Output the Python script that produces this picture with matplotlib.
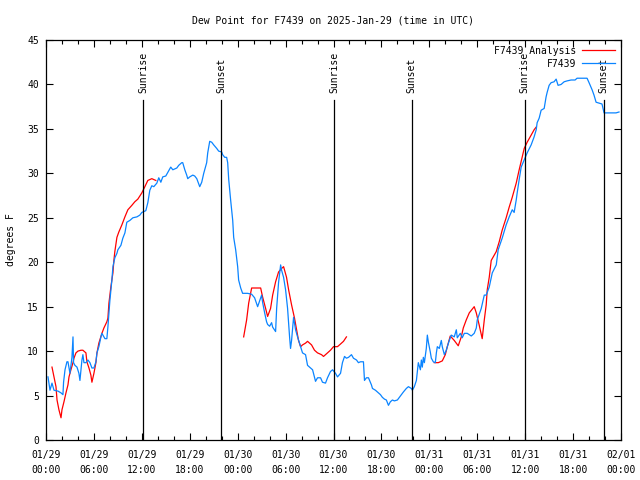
import numpy as np
import matplotlib
matplotlib.use("Agg")
import matplotlib.pyplot as plt

nan = np.nan

# hours since 2025-01-29 00:00 UTC
obs_hours = [0.25, 0.5, 0.75, 1.0, 1.5, 1.88, 2.12, 2.2, 2.38, 2.62, 2.75, 3.0, 3.25, 3.38, 3.45,
             3.62, 3.88, 4.12, 4.25, 4.5, 4.62, 4.75, 5.0, 5.25, 5.5, 5.75, 6.0, 6.25, 6.38, 6.62,
             6.88, 7.0, 7.38, 7.62, 7.75, 8.0, 8.25, 8.38, 8.62, 8.88, 9.0, 9.38, 9.62, 9.88, 10.12,
             10.5, 10.88, 11.38, 11.75, 12.0, 12.5, 12.75, 13.0, 13.25, 13.5, 13.88, 14.12, 14.38,
             14.62, 15.0, 15.25, 15.62, 15.88, 16.38, 16.62, 17.0, 17.12, 17.38, 17.62, 17.75, 18.0,
             18.38, 18.62, 18.88, 19.25, 19.5, 19.75, 20.12, 20.25, 20.5, 20.75, 21.0, 21.38, 21.62,
             22.0, 22.12, 22.38, 22.62, 22.75, 22.88, 23.12, 23.38, 23.5, 23.75, 24.0, 24.12, 24.38,
             24.62, 25.25, 25.75, 26.12, 26.5, 26.88, 27.0, 27.12, 27.38, 27.62, 27.75, 28.0, 28.25,
             28.38, 28.75, 28.88, 29.12, 29.38, 29.5, 29.75, 30.0, 30.25, 30.5, 30.62, 30.75, 31.0,
             31.25, 31.5, 31.88, 32.12, 32.5, 32.75, 33.12, 33.38, 33.75, 34.0, 34.38, 34.62, 35.0,
             35.25, 35.62, 35.88, 36.25, 36.5, 36.88, 37.12, 37.38, 37.62, 37.88, 38.25, 38.5, 38.88,
             39.12, 39.38, 39.75, 39.88, 40.12, 40.38, 40.75, 40.88, 41.25, 41.5, 41.88, 42.12, 42.38,
             42.62, 42.88, 43.12, 43.38, 43.62, 44.0, 44.25, 44.5, 44.75, 45.12, 45.38, 45.75, 45.88,
             46.12, 46.38, 46.5, 46.62, 46.88, 47.0, 47.12, 47.25, 47.38, 47.62, 47.75, 47.88, 48.12,
             48.25, 48.5, 48.75, 48.88, 49.0, 49.25, 49.5, 49.62, 49.88, 50.12, 50.25, 50.5, 50.75,
             51.12, 51.38, 51.5, 51.88, 52.12, 52.38, 52.75, 53.25, 53.62, 53.88, 54.0, 54.5, 54.88,
             55.12, 55.5, 55.88, 56.38, 56.62, 57.12, 57.62, 58.0, 58.38, 58.62, 58.88, 59.0, 59.25,
             59.5, 59.88, 60.25, 60.75, 61.12, 61.38, 61.5, 61.75, 62.0, 62.38, 62.62, 62.75, 63.0,
             63.25, 63.62, 63.88, 64.12, 64.5, 64.88, 65.25, 65.75, 66.25, 66.5, 67.12, 67.75, 68.0,
             68.38, 68.62, 68.88, 69.25, 69.62, 69.88, 70.5, 71.38, 71.75]
obs_dewpt = [7.1, 5.6, 6.4, 5.6, 5.5, 5.3, 5.1, 6.5, 7.9, 8.8, 8.8, 7.5, 9.3, 11.6, 8.7,
             8.4, 8.2, 7.5, 6.7, 9.0, 9.6, 8.7, 8.7, 9.0, 8.7, 8.1, 8.1, 8.8, 9.8, 10.5,
             11.6, 12.0, 11.4, 11.4, 12.7, 15.7, 18.0, 19.5, 20.5, 21.0, 21.4, 21.9, 22.7, 23.3, 24.5,
             24.7, 25.0, 25.1, 25.3, 25.6, 25.8, 26.7, 28.1, 28.6, 28.5, 28.9, 29.5, 29.0,
             29.6, 29.7, 30.1, 30.7, 30.4, 30.6, 30.9, 31.2, 31.2, 30.4, 29.8, 29.4, 29.6,
             29.8, 29.7, 29.4, 28.5, 29.0, 30.0, 31.2, 32.3, 33.6, 33.5, 33.2, 32.8, 32.5,
             32.4, 32.1, 31.8, 31.8, 31.2, 29.3, 27.0, 24.7, 22.8, 21.4, 19.5, 18.0, 17.1,
             16.5, 16.5, 16.4, 16.0, 15.0, 16.0, 16.3, 15.5, 14.3, 13.3, 13.0, 12.8, 13.2,
             12.7, 12.2, 14.8, 17.7, 19.7, 19.1, 18.3, 16.9, 14.8, 11.6, 10.3, 11.2, 13.8,
             12.4, 11.6, 10.5, 9.8, 9.6, 8.4, 8.1, 7.9, 6.6, 7.0, 7.0, 6.5, 6.4,
             7.0, 7.7, 7.9, 7.5, 7.1, 7.5, 8.7, 9.4, 9.2, 9.3, 9.6, 9.2, 9.0,
             8.7, 8.8, 8.8, 6.7, 7.0, 7.0, 6.2, 5.8, 5.6, 5.4, 5.1, 4.8, 4.6,
             4.5, 3.9, 4.3, 4.5, 4.4, 4.5, 4.8, 5.1, 5.4, 5.8, 6.0, 5.8, 5.6,
             6.0, 6.7, 7.7, 8.7, 7.9, 9.0, 8.2, 9.3, 8.7, 10.3, 11.8, 11.0, 9.9,
             9.2, 8.8, 8.7, 9.8, 10.5, 10.3, 11.2, 10.5, 9.6, 10.1, 10.5, 11.2, 11.8,
             11.6, 12.4, 11.5, 12.0, 11.5, 12.0, 12.0, 11.7, 12.0, 12.6, 13.5, 14.8, 16.3,
             16.3, 17.2, 18.8, 19.7, 21.4, 22.7, 24.2, 25.1, 25.9, 25.6, 27.0, 27.8, 29.3,
             30.7, 31.5, 32.3, 33.2, 34.1, 34.9, 35.7, 36.2, 37.1, 37.3, 38.6, 39.1, 39.9,
             40.2, 40.3, 40.6, 39.9, 40.0, 40.3, 40.4, 40.5, 40.5, 40.7, 40.7, 40.7, 40.2,
             39.4, 38.8, 38.0, 37.9, 37.8, 36.8, 36.8, 36.8, 36.9]

# analysis series, nan marks the gaps
ana_hours = [0.75, 1.0, 1.25, 1.38, 1.62, 1.88, 2.0, 2.25, 2.5, 2.75, 2.88, 3.12, 3.38, 3.5, 3.75,
             4.0, 4.38, 4.62, 5.0, 5.12, 5.38, 5.62, 5.75, 6.0, 6.25, 6.38, 6.62, 7.0, 7.25, 7.62,
             7.75, 7.88, 8.12, 8.38, 8.5, 8.62, 8.88, 9.12, 9.5, 9.88, 10.25, 10.75, 11.12, 11.5,
             12.0, 12.38, 12.75, 13.25, 13.75, 19.0,
             24.75, 25.12, 25.38, 25.75, 26.12, 26.88, 27.12, 27.5, 27.75, 28.12, 28.38, 28.75,
             29.12, 29.5, 29.75, 30.12, 30.38, 30.75, 31.12, 31.38, 31.62, 31.88, 32.12, 32.5,
             32.75, 33.25, 33.62, 34.0, 34.5, 34.75, 35.25, 35.62, 36.0, 36.5, 36.88, 37.25, 37.62,
             43.0,
             48.62, 49.12, 49.62, 50.0, 50.25, 50.62, 51.12, 51.62, 52.0, 52.25, 52.62, 53.0,
             53.62, 53.88, 54.25, 54.62, 54.88, 55.12, 55.25, 55.5, 55.75, 56.38, 56.75, 57.12,
             57.62, 58.0, 58.38, 58.88, 59.25, 59.62, 59.88, 60.25, 60.75, 61.12, 61.38]
ana_dewpt = [8.2, 7.1, 6.0, 4.5, 3.4, 2.5, 3.4, 4.3, 5.3, 6.2, 7.1, 7.9, 8.7, 9.2, 9.8,
             10.0, 10.1, 10.1, 9.8, 8.8, 8.1, 7.3, 6.5, 7.5, 8.7, 9.8, 10.9, 12.0, 12.6, 13.3,
             13.7, 15.4, 17.2, 18.8, 20.2, 21.2, 22.8, 23.4, 24.2, 25.1, 25.9, 26.4, 26.8, 27.1,
             27.8, 28.5, 29.2, 29.4, 29.2, nan,
             11.6, 13.5, 15.4, 17.1, 17.1, 17.1, 16.1, 14.8, 13.9, 14.8, 16.3, 17.8,
             18.9, 19.3, 19.5, 18.3, 16.9, 15.2, 13.7, 12.4, 11.2, 10.5, 10.7, 10.9,
             11.1, 10.7, 10.1, 9.8, 9.6, 9.4, 9.8, 10.1, 10.5, 10.5, 10.8, 11.1, 11.6,
             nan,
             8.7, 8.7, 8.9, 9.6, 10.5, 11.7, 11.2, 10.6, 11.6, 12.6, 13.5, 14.3,
             15.0, 14.3, 12.9, 11.4, 13.5, 15.2, 16.9, 18.3, 20.2, 21.2, 22.3, 23.6,
             25.0, 26.2, 27.3, 28.9, 30.4, 31.8, 32.8, 33.5, 34.3, 34.9, 35.2]

sun_hours = [12.15, 21.9, 36.05, 45.8, 59.95, 69.85]
sun_labels = ["Sunrise", "Sunset", "Sunrise", "Sunset", "Sunrise", "Sunset"]

xtick_hours = [0, 6, 12, 18, 24, 30, 36, 42, 48, 54, 60, 66, 72]
xtick_labels = ["01/29\n00:00", "01/29\n06:00", "01/29\n12:00", "01/29\n18:00",
                "01/30\n00:00", "01/30\n06:00", "01/30\n12:00", "01/30\n18:00",
                "01/31\n00:00", "01/31\n06:00", "01/31\n12:00", "01/31\n18:00",
                "02/01\n00:00"]

plt.rcParams['font.family'] = ['DejaVu Sans Mono']
plt.rcParams['font.size'] = 7

fig = plt.figure(figsize=(6.4, 4.8), dpi=100)
ax = fig.add_axes([46 / 640, 40 / 480, 575 / 640, 400 / 480])

ax.plot(ana_hours, ana_dewpt, color='#ff0000', lw=0.9, label='F7439 Analysis')
ax.plot(obs_hours, obs_dewpt, color='#0a84ff', lw=0.9, label='F7439')

for h, lab in zip(sun_hours, sun_labels):
    ax.plot([h, h], [0, 38.3], color='black', lw=0.9)
    ax.text(h, 39.0, lab, rotation=90, ha='center', va='bottom', fontsize=7)

ax.set_xlim(0, 72)
ax.set_ylim(0, 45)
ax.set_xticks(xtick_hours)
ax.set_xticklabels(xtick_labels, linespacing=1.6)
ax.set_xticks(np.arange(0, 73, 2), minor=True)
ax.set_yticks(np.arange(0, 46, 5))
ax.tick_params(which='both', direction='in', top=True, right=True, width=0.8)
ax.tick_params(which='major', length=5)
ax.tick_params(which='minor', length=3)
ax.tick_params(axis='x', pad=7)
ax.tick_params(axis='y', pad=5)
for s in ax.spines.values():
    s.set_linewidth(0.9)

ax.set_title('Dew Point for F7439 on 2025-Jan-29 (time in UTC)', fontsize=7, pad=12)
ax.set_ylabel('degrees F', labelpad=8)

ax.legend(loc='upper right', frameon=False, markerfirst=False, handlelength=3.4,
          borderaxespad=0.2, labelspacing=0.3, handletextpad=0.6, fontsize=7)

fig.savefig("out.png", dpi=100)
